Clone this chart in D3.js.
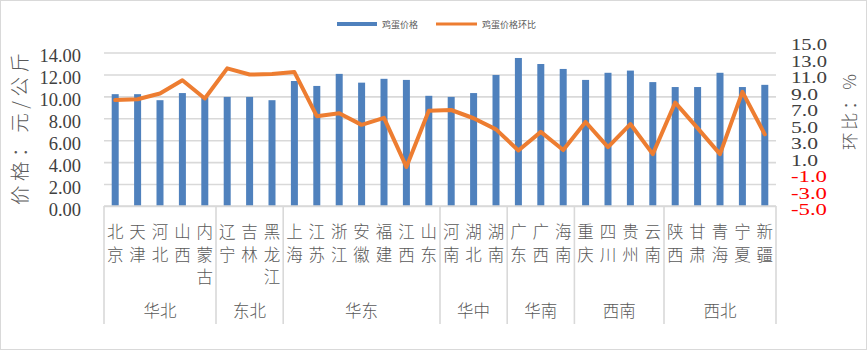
<!DOCTYPE html>
<html>
<head>
<meta charset="utf-8">
<script src="https://cdn.jsdelivr.net/npm/d3@7/dist/d3.min.js"></script>
<style>
  html, body { margin: 0; padding: 0; background: #fff; }
  svg { display: block; }
</style>
</head>
<body>
<svg id="chart" width="867" height="350"></svg>
<script>
// Provinces, grouped by region
const provinces = ["北京","天津","河北","山西","内蒙古","辽宁","吉林","黑龙江",
  "上海","江苏","浙江","安徽","福建","江西","山东","河南","湖北","湖南",
  "广东","广西","海南","重庆","四川","贵州","云南","陕西","甘肃","青海","宁夏","新疆"];
const regionNames = ["华北","东北","华东","华中","华南","西南","西北"];
const regionSizes = [5, 3, 7, 3, 3, 4, 5];

// Egg price (元/公斤)
const eggPrice = [10.2, 10.2, 9.65, 10.3, 9.9, 9.95, 9.95, 9.65,
  11.4, 10.95, 12.05, 11.25, 11.6, 11.5, 10.05, 9.95, 10.3, 11.95,
  13.5, 12.95, 12.5, 11.5, 12.15, 12.35, 11.3, 10.85, 10.85, 12.15, 10.85, 11.05];
// Month-on-month change (%)
const eggPriceMoM = [8.2, 8.3, 9.0, 10.6, 8.4, 12.05, 11.3, 11.35,
  11.6, 6.25, 6.6, 5.2, 6.05, 0.1, 6.9, 7.0, 6.0, 4.65,
  2.1, 4.35, 2.15, 5.55, 2.5, 5.3, 1.65, 7.9, 4.8, 1.65, 9.2, 4.05];

const leftTicks = [0, 2, 4, 6, 8, 10, 12, 14];
const rightTicks = [-5, -3, -1, 1, 3, 5, 7, 9, 11, 13, 15];

const svg = d3.select("#chart");
const W = 867, H = 350;
const plotLeft = 104, plotRight = 776, plotTop = 52.5, plotBottom = 206;
const barColor = "#4F81BD", lineColor = "#ED7D31", gridColor = "#D9D9D9";
const textColor = "#595959";
const numFont = "'Liberation Serif', serif";
const cjkFont = "'Noto Sans CJK SC', sans-serif";

// chart border
svg.append("rect").attr("x", 0.5).attr("y", 0.5)
  .attr("width", W - 1).attr("height", H - 1)
  .attr("fill", "#fff").attr("stroke", gridColor).attr("stroke-width", 1);

const x = d3.scaleBand().domain(provinces)
  .range([plotLeft, plotRight])
  .paddingInner(0.6875).paddingOuter(0.34375);
const yL = d3.scaleLinear().domain([0, 14]).range([plotBottom, plotTop]);
const yR = d3.scaleLinear().domain([-5, 15]).range([209, 44]);

// horizontal gridlines
const grid = svg.append("g").attr("transform", `translate(${plotLeft},0)`)
  .call(d3.axisLeft(yL).tickValues(leftTicks).tickSize(-(plotRight - plotLeft)).tickFormat(""));
grid.select(".domain").remove();
grid.selectAll("line").attr("stroke", gridColor).attr("stroke-width", 1.6);

// bars
svg.append("g").selectAll("rect").data(provinces).join("rect")
  .attr("x", d => x(d))
  .attr("width", x.bandwidth())
  .attr("y", (d, i) => yL(eggPrice[i]))
  .attr("height", (d, i) => yL(0) - yL(eggPrice[i]))
  .attr("fill", barColor);

// MoM line
const line = d3.line()
  .x(d => x(d[0]) + x.bandwidth() / 2)
  .y(d => yR(d[1]));
svg.append("path")
  .datum(provinces.map((p, i) => [p, eggPriceMoM[i]]))
  .attr("d", line)
  .attr("fill", "none")
  .attr("stroke", lineColor)
  .attr("stroke-width", 4)
  .attr("stroke-linejoin", "round")
  .attr("stroke-linecap", "round");

// left axis labels
const axL = svg.append("g").attr("transform", "translate(81,0)")
  .call(d3.axisLeft(yL).tickValues(leftTicks).tickSize(0).tickPadding(0)
    .tickFormat(d3.format(".2f")));
axL.select(".domain").remove();
axL.selectAll("text")
  .attr("font-family", numFont).attr("font-size", 18.5)
  .attr("fill", "#404040").attr("dy", "0.5em");

// right axis labels
const axR = svg.append("g").attr("transform", "translate(791,0)")
  .call(d3.axisRight(yR).tickValues(rightTicks).tickSize(0).tickPadding(0)
    .tickFormat(d => (d < 0 ? "-" : "") + d3.format(".1f")(Math.abs(d))));
axR.select(".domain").remove();
axR.selectAll("text")
  .attr("font-family", numFont).attr("font-size", 16.5)
  .attr("textLength", d => d < 0 || d >= 10 ? 36 : 27)
  .attr("lengthAdjust", "spacingAndGlyphs")
  .attr("dy", "0.35em")
  .attr("fill", d => d < 0 ? "#FF0000" : "#404040");

// category axis: baseline and stacked vertical labels
svg.append("line")
  .attr("x1", plotLeft).attr("x2", plotRight)
  .attr("y1", plotBottom).attr("y2", plotBottom)
  .attr("stroke", gridColor).attr("stroke-width", 1.6);

const axB = svg.append("g").attr("transform", `translate(0,${plotBottom})`)
  .call(d3.axisBottom(x).tickSize(0).tickPadding(0));
axB.select(".domain").remove();
axB.selectAll("text").each(function(d) {
  const t = d3.select(this);
  t.text(null)
    .attr("font-family", cjkFont).attr("font-size", 16.5)
    .attr("font-weight", 300)
    .attr("fill", textColor).attr("dy", null).attr("y", 0);
  Array.from(d).forEach((ch, k) => {
    t.append("tspan").attr("x", 0).attr("y", 32 + k * 22.5).text(ch);
  });
});

// region dividers and names
let cum = 0;
const bounds = [0];
regionSizes.forEach(s => { cum += s; bounds.push(cum); });
svg.append("g").selectAll("line").data(bounds).join("line")
  .attr("x1", b => plotLeft + b * x.step())
  .attr("x2", b => plotLeft + b * x.step())
  .attr("y1", plotBottom).attr("y2", 324)
  .attr("stroke", gridColor).attr("stroke-width", 1.6);
svg.append("g").selectAll("text").data(regionNames).join("text")
  .attr("x", (d, i) => plotLeft + (bounds[i] + bounds[i + 1]) / 2 * x.step())
  .attr("y", 317)
  .attr("text-anchor", "middle")
  .attr("font-family", cjkFont).attr("font-size", 16.5)
  .attr("font-weight", 300)
  .attr("fill", textColor)
  .text(d => d);

// axis titles
svg.append("text")
  .attr("transform", "translate(27,129) rotate(-90)")
  .attr("text-anchor", "middle")
  .attr("font-family", cjkFont).attr("font-size", 19.5)
  .attr("font-weight", 300)
  .attr("fill", textColor)
  .attr("textLength", 152).attr("lengthAdjust", "spacing")
  .text("价格：元/公斤");
svg.append("text")
  .attr("transform", "translate(856,112) rotate(-90)")
  .attr("text-anchor", "middle")
  .attr("font-family", cjkFont).attr("font-size", 17.5)
  .attr("font-weight", 300)
  .attr("fill", textColor)
  .attr("textLength", 76).attr("lengthAdjust", "spacing")
  .text("环比：%");

// legend
const legend = svg.append("g").attr("font-family", cjkFont).attr("font-size", 9).attr("fill", textColor);
legend.append("rect").attr("x", 337).attr("y", 22).attr("width", 40).attr("height", 4).attr("fill", barColor);
legend.append("text").attr("x", 382).attr("y", 27.5).text("鸡蛋价格");
legend.append("line").attr("x1", 436).attr("x2", 477).attr("y1", 24).attr("y2", 24)
  .attr("stroke", lineColor).attr("stroke-width", 3);
legend.append("text").attr("x", 482).attr("y", 27.5).text("鸡蛋价格环比");
</script>
</body>
</html>
